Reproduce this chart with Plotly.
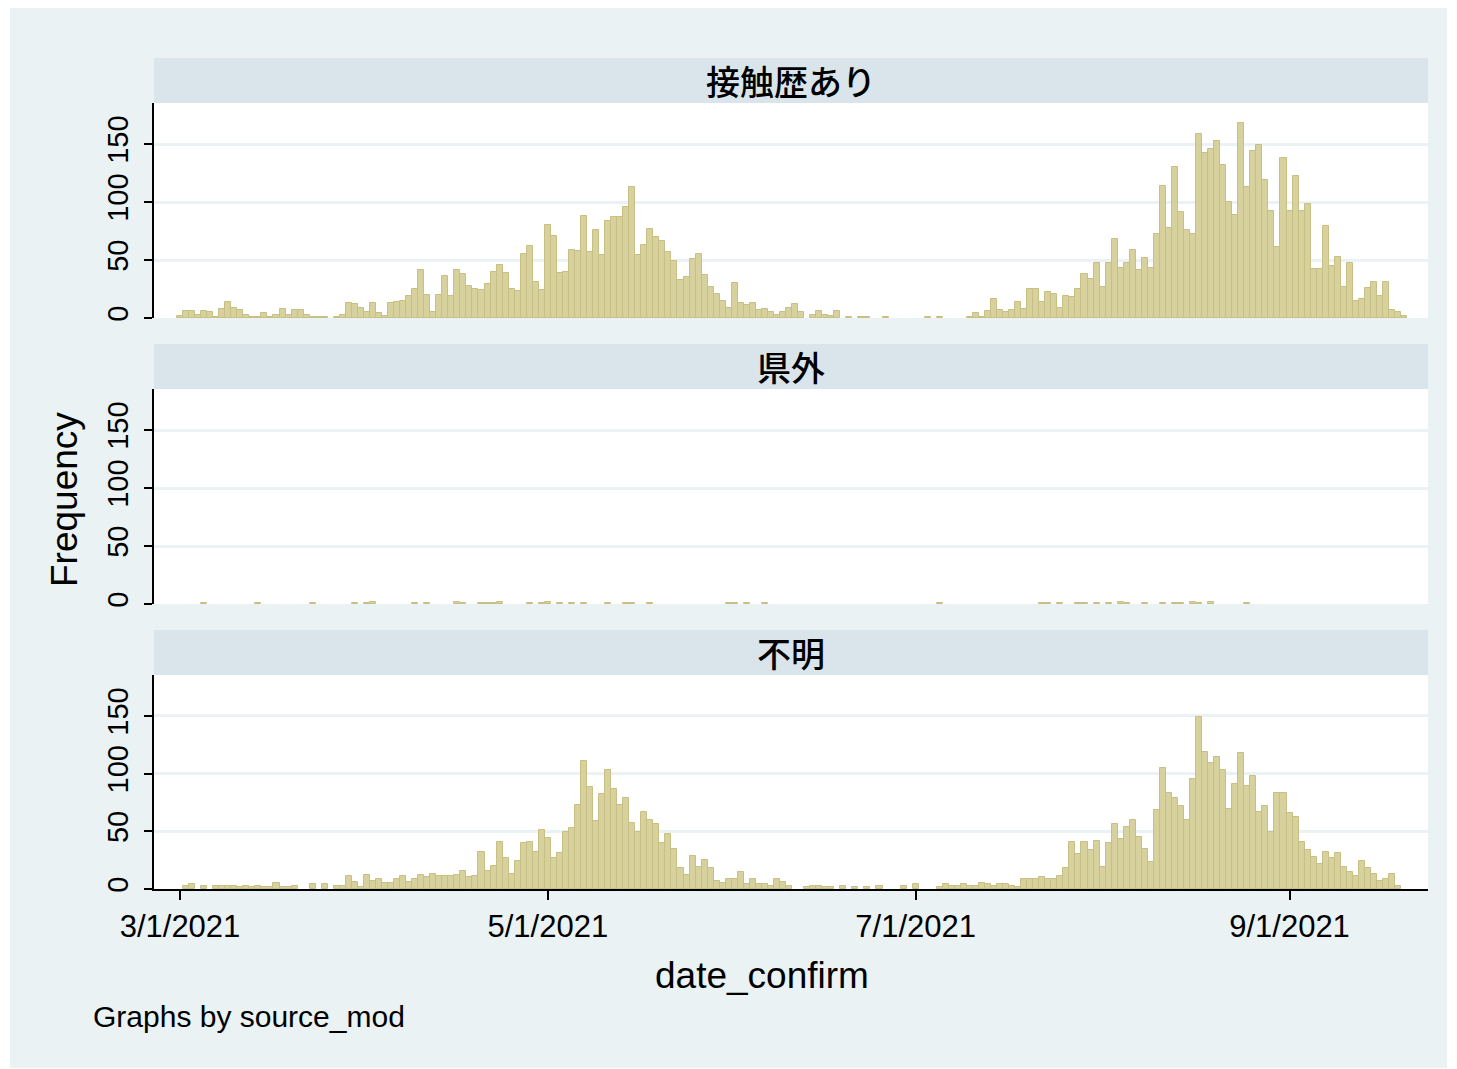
import pandas as pd
import plotly.graph_objects as go

# ---------------- data ----------------
start_date = "2021-03-01"
n_days = 204
dates = pd.date_range(start_date, periods=n_days, freq="D")

panel_titles = ["接触歴あり", "県外", "不明"]

contact = [
    2, 6, 6, 3, 6, 5, 1, 8, 14, 9, 7, 3, 1, 1, 4, 1, 3, 8, 3, 7,
    7, 3, 1, 1, 1, 0, 1, 3, 13, 12, 9, 5, 13, 4, 2, 13, 14, 15, 19, 25,
    41, 20, 5, 20, 36, 19, 41, 38, 28, 25, 24, 29, 40, 46, 39, 25, 23, 55, 62, 31,
    24, 80, 71, 39, 40, 59, 58, 88, 57, 76, 54, 84, 87, 87, 96, 113, 54, 63, 77, 70,
    66, 57, 49, 33, 35, 51, 55, 37, 27, 21, 15, 9, 30, 13, 11, 13, 7, 8, 5, 3,
    5, 9, 12, 5, 0, 3, 6, 3, 2, 6, 0, 1, 0, 1, 1, 0, 0, 1, 0, 0,
    0, 0, 0, 0, 1, 0, 1, 0, 0, 0, 0, 1, 4, 1, 6, 16, 7, 5, 7, 14,
    8, 25, 25, 14, 22, 21, 9, 19, 18, 25, 38, 34, 47, 27, 47, 68, 43, 47, 59, 41,
    52, 43, 72, 114, 78, 130, 91, 76, 72, 159, 142, 146, 153, 132, 100, 89, 168, 113, 144, 149,
    119, 92, 61, 138, 92, 122, 92, 98, 42, 42, 79, 45, 53, 27, 47, 15, 16, 26, 31, 19,
    31, 7, 5, 2,
]

outside = [
    0, 0, 0, 0, 1, 0, 0, 0, 0, 0, 0, 0, 0, 1, 0, 0, 0, 0, 0, 0,
    0, 0, 1, 0, 0, 0, 0, 0, 0, 1, 0, 1, 2, 0, 0, 0, 0, 0, 0, 1,
    0, 1, 0, 0, 0, 0, 2, 1, 0, 0, 1, 1, 1, 2, 0, 0, 0, 0, 1, 0,
    1, 2, 0, 1, 0, 1, 0, 1, 0, 0, 0, 1, 0, 0, 1, 1, 0, 0, 1, 0,
    0, 0, 0, 0, 0, 0, 0, 0, 0, 0, 0, 1, 1, 0, 1, 0, 0, 1, 0, 0,
    0, 0, 0, 0, 0, 0, 0, 0, 0, 0, 0, 0, 0, 0, 0, 0, 0, 0, 0, 0,
    0, 0, 0, 0, 0, 0, 1, 0, 0, 0, 0, 0, 0, 0, 0, 0, 0, 0, 0, 0,
    0, 0, 0, 1, 1, 0, 1, 0, 0, 1, 1, 0, 1, 0, 1, 0, 2, 1, 0, 0,
    1, 0, 0, 1, 0, 1, 1, 0, 2, 1, 0, 2, 0, 0, 0, 0, 0, 1, 0, 0,
    0, 0, 0, 0, 0, 0, 0, 0, 0, 0, 0, 0, 0, 0, 0, 0, 0, 0, 0, 0,
    0, 0, 0, 0,
]

unknown = [
    0, 3, 4, 0, 3, 0, 3, 3, 3, 3, 2, 3, 2, 3, 2, 2, 5, 2, 2, 3,
    0, 0, 4, 0, 4, 0, 3, 3, 11, 6, 2, 12, 7, 9, 5, 5, 9, 11, 6, 9,
    12, 10, 13, 11, 11, 11, 12, 16, 10, 11, 32, 16, 20, 41, 27, 13, 24, 40, 41, 32,
    51, 44, 27, 31, 49, 53, 73, 111, 88, 59, 82, 103, 87, 73, 79, 57, 49, 67, 60, 56,
    40, 48, 35, 18, 12, 29, 19, 25, 18, 7, 5, 9, 9, 15, 4, 9, 4, 4, 3, 9,
    6, 3, 0, 0, 2, 3, 3, 2, 2, 0, 3, 0, 2, 0, 2, 0, 3, 0, 0, 0,
    3, 0, 4, 0, 0, 0, 2, 4, 3, 3, 4, 3, 3, 5, 4, 3, 4, 4, 3, 2,
    9, 9, 9, 10, 9, 9, 11, 18, 41, 30, 41, 34, 42, 19, 40, 56, 43, 54, 60, 45,
    35, 23, 68, 105, 83, 79, 72, 60, 95, 149, 119, 109, 114, 103, 69, 91, 118, 89, 98, 67,
    72, 49, 83, 83, 66, 62, 41, 34, 28, 22, 32, 27, 31, 19, 15, 11, 24, 18, 13, 7,
    9, 13, 3, 0,
]

tick_dates = ["2021-03-01", "2021-05-01", "2021-07-01", "2021-09-01"]
tick_labels = ["3/1/2021", "5/1/2021", "7/1/2021", "9/1/2021"]
y_ticks = [0, 50, 100, 150]

# ---------------- style ----------------
W, H = 1457, 1069
BG = "#EAF2F3"
STRIP = "#D9E5EA"
BAR_FILL = "#D7D19E"
BAR_LINE = "#C8BF84"
FONT = "Liberation Sans, Arial, Noto Sans CJK JP, sans-serif"

def px_x(p):
    return p / W

def px_y(p):
    return 1 - p / H

x_left, x_right = 154, 1428
panels = [(103, 318), (389, 604), (675, 889)]
strips = [(58, 103), (344, 389), (630, 675)]

d0 = pd.Timestamp(start_date)
day_px = 6.03
x_range = [d0 + pd.Timedelta(days=(x_left - 180) / day_px),
           d0 + pd.Timedelta(days=(x_right - 180) / day_px)]
y_max = (318 - 103) / 1.16

fig = go.Figure()
series = [contact, outside, unknown]
for i, vals in enumerate(series):
    fig.add_trace(go.Bar(
        x=dates, y=[v if v > 0 else None for v in vals], width=86400000,
        marker=dict(color=BAR_FILL, line=dict(color=BAR_LINE, width=1)),
        xaxis="x" if i == 0 else f"x{i+1}",
        yaxis="y" if i == 0 else f"y{i+1}",
        showlegend=False, hoverinfo="x+y",
    ))

layout = dict(
    template="none",
    width=W, height=H,
    margin=dict(l=0, r=0, t=0, b=0, pad=0),
    paper_bgcolor="white", plot_bgcolor="white",
    font=dict(family=FONT, color="black"),
    bargap=0,
    showlegend=False,
)

for i, (top, bot) in enumerate(panels):
    xk = "xaxis" if i == 0 else f"xaxis{i+1}"
    yk = "yaxis" if i == 0 else f"yaxis{i+1}"
    xa = "x" if i == 0 else f"x{i+1}"
    ya = "y" if i == 0 else f"y{i+1}"
    last = i == len(panels) - 1
    layout[xk] = dict(
        domain=[px_x(x_left), px_x(x_right)],
        anchor=ya, type="date", range=x_range, automargin=False,
        showgrid=False, zeroline=False,
        showline=last, linecolor="black", linewidth=2,
        ticks="outside" if last else "", ticklen=9, tickwidth=1.5, tickcolor="black",
        tickvals=tick_dates, ticktext=tick_labels,
        showticklabels=last, tickfont=dict(size=31, family=FONT),
    )
    layout[yk] = dict(
        domain=[px_y(bot), px_y(top)],
        anchor=xa, range=[0, y_max], automargin=False,
        showgrid=True, gridcolor=BG, gridwidth=2.5,
        zeroline=False,
        showline=True, linecolor="black", linewidth=1.5,
        ticks="outside", ticklen=8, tickwidth=1.5, tickcolor="black",
        tickvals=y_ticks, ticktext=[str(v) for v in y_ticks],
        tickangle=-90, tickfont=dict(size=29, family=FONT),
        ticklabelstandoff=5,
    )

fig.update_layout(**layout)

shapes = [
    dict(type="rect", xref="paper", yref="paper", layer="below",
         x0=px_x(10), x1=px_x(1447), y0=px_y(1068), y1=px_y(8),
         fillcolor=BG, line=dict(width=0)),
]
annotations = []
for (top, bot), title in zip(strips, panel_titles):
    shapes.append(dict(type="rect", xref="paper", yref="paper", layer="below",
                       x0=px_x(x_left), x1=px_x(x_right), y0=px_y(bot), y1=px_y(top),
                       fillcolor=STRIP, line=dict(width=0)))
    annotations.append(dict(text=title, xref="paper", yref="paper",
                            x=px_x((x_left + x_right) / 2), y=px_y((top + bot) / 2),
                            showarrow=False, xanchor="center", yanchor="middle",
                            font=dict(size=34, weight=500,
                                      family="Noto Sans CJK JP, sans-serif")))
# plot-area backgrounds (white) over the bluish-gray page
for top, bot in panels:
    shapes.append(dict(type="rect", xref="paper", yref="paper", layer="below",
                       x0=px_x(x_left), x1=px_x(x_right), y0=px_y(bot), y1=px_y(top),
                       fillcolor="white", line=dict(width=0)))

annotations.append(dict(text="Frequency", xref="paper", yref="paper",
                        x=px_x(65), y=px_y(500), textangle=-90, showarrow=False,
                        xanchor="center", yanchor="middle", font=dict(size=37)))
annotations.append(dict(text="date_confirm", xref="paper", yref="paper",
                        x=px_x(762), y=px_y(975), showarrow=False,
                        xanchor="center", yanchor="middle", font=dict(size=37)))
annotations.append(dict(text="Graphs by source_mod", xref="paper", yref="paper",
                        x=px_x(91), y=px_y(1016), showarrow=False,
                        xanchor="left", yanchor="middle", font=dict(size=30)))

fig.update_layout(shapes=shapes, annotations=annotations)
fig.write_html("out.html",
               config={"displayModeBar": False},
               post_script="document.body.style.margin='0px';"
                           "document.body.style.overflow='hidden';")
